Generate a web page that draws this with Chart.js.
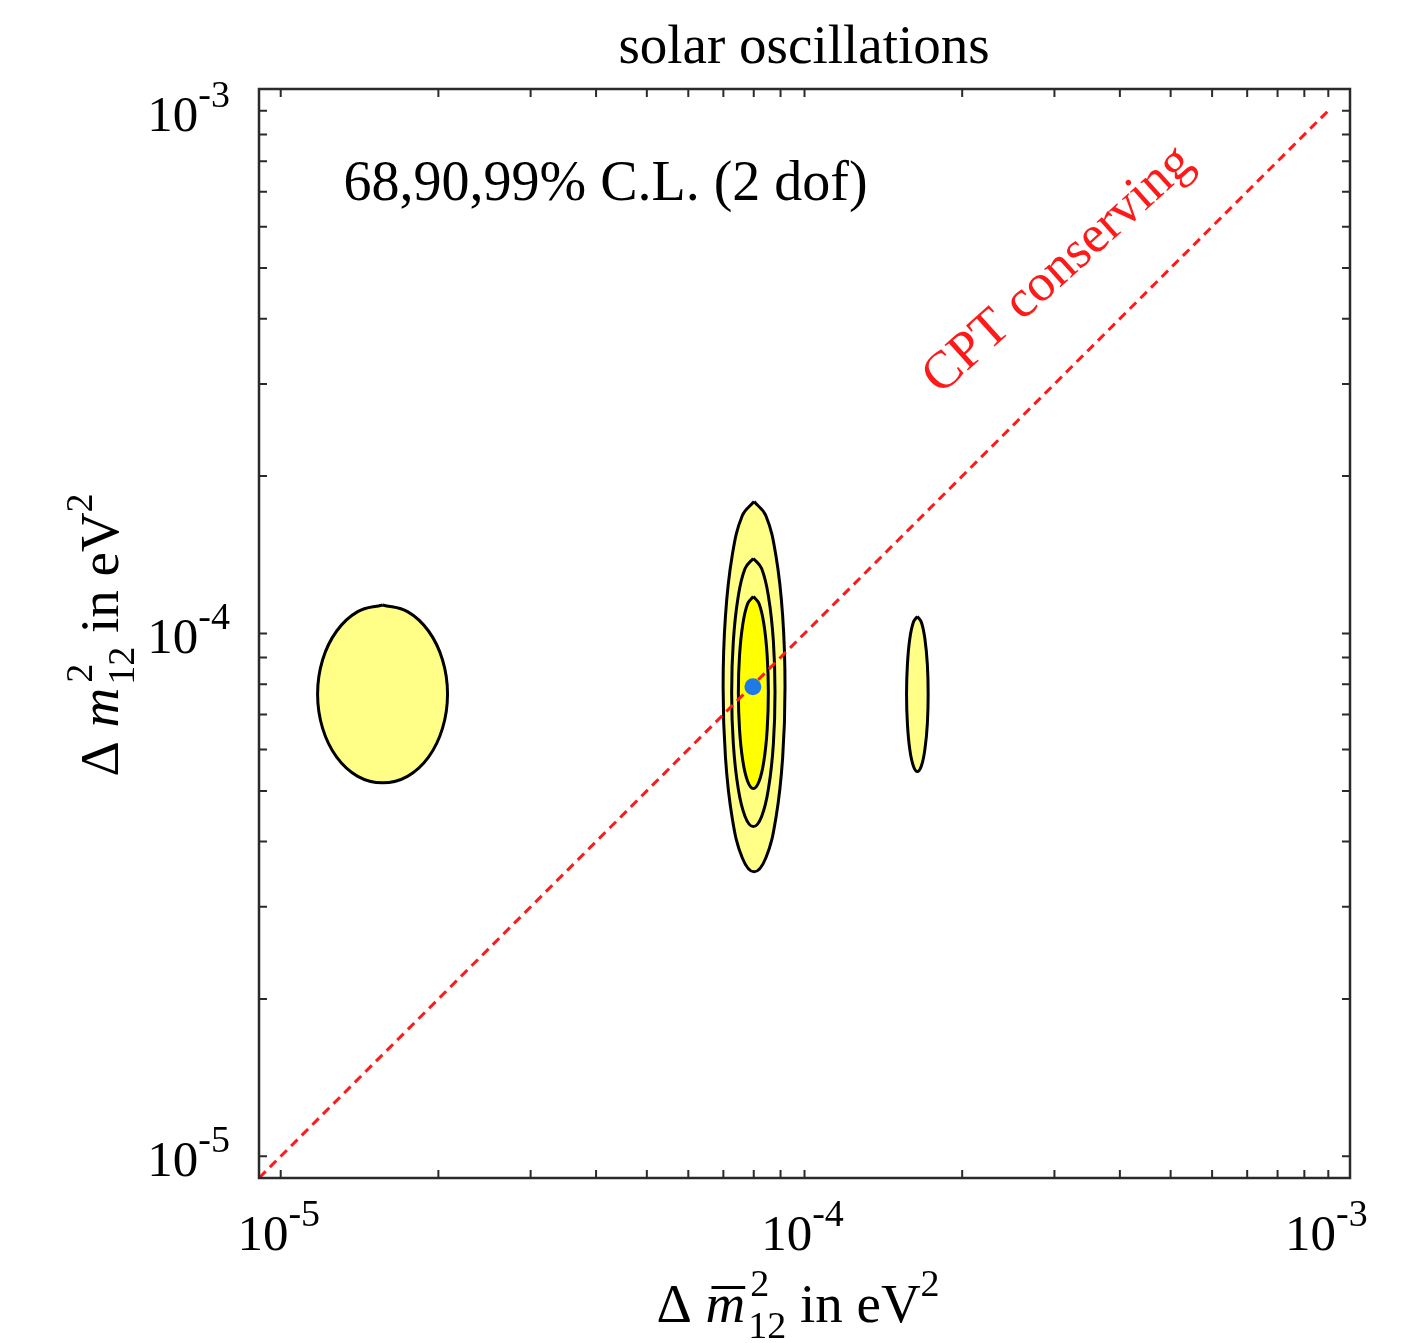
<!DOCTYPE html>
<html><head><meta charset="utf-8">
<script src="https://cdn.jsdelivr.net/npm/chart.js@4.4.1/dist/chart.umd.min.js"></script>
<style>html,body{margin:0;padding:0;background:#fff;}canvas{display:block;}</style>
</head><body>
<canvas id="c" width="1409" height="1343"></canvas>
<script>
// ---- text ----
const chartTitle = 'solar oscillations';
const clLabel = '68,90,99% C.L. (2 dof)';
const cptLabel = 'CPT conserving';
// ---- axes ----
const axisMin = 9.09e-6, axisMax = 1.1e-3;
const majorTicks = [1e-5, 1e-4, 1e-3];
const majorTickExp = ['-5', '-4', '-3'];
const minorMultiples = [2, 3, 4, 5, 6, 7, 8, 9];
// ---- data: [Δm̄²12 (x), Δm²12 (y)] in eV² ----
const bestFit = [[7.97e-5, 7.91e-5]];
const cptLine = [[9.1e-6, 9.1e-6], [1.0e-3, 1.0e-3]];
const contour68Main = [
 [7.986e-5,1.177e-4],[7.787e-5,1.140e-4],[7.623e-5,1.040e-4],[7.515e-5,9.066e-5],
 [7.477e-5,7.711e-5],[7.515e-5,6.558e-5],[7.623e-5,5.717e-5],[7.787e-5,5.216e-5],
 [7.986e-5,5.051e-5],[8.190e-5,5.216e-5],[8.367e-5,5.717e-5],[8.487e-5,6.558e-5],
 [8.530e-5,7.711e-5],[8.487e-5,9.066e-5],[8.367e-5,1.040e-4],[8.190e-5,1.140e-4],
 [7.986e-5,1.177e-4]];
const contour90Main = [
 [7.986e-5,1.392e-4],[7.700e-5,1.331e-4],[7.466e-5,1.171e-4],[7.313e-5,9.666e-5],
 [7.260e-5,7.711e-5],[7.313e-5,6.151e-5],[7.466e-5,5.079e-5],[7.700e-5,4.468e-5],
 [7.986e-5,4.272e-5],[8.282e-5,4.468e-5],[8.542e-5,5.079e-5],[8.721e-5,6.151e-5],
 [8.784e-5,7.711e-5],[8.721e-5,9.666e-5],[8.542e-5,1.171e-4],[8.282e-5,1.331e-4],
 [7.986e-5,1.392e-4]];
const contour99Main = [
 [8.011e-5,1.788e-4],[7.605e-5,1.680e-4],[7.276e-5,1.408e-4],[7.065e-5,1.081e-4],
 [6.992e-5,7.910e-5],[7.065e-5,5.790e-5],[7.276e-5,4.444e-5],[7.605e-5,3.724e-5],
 [8.011e-5,3.500e-5],[8.439e-5,3.724e-5],[8.820e-5,4.444e-5],[9.084e-5,5.790e-5],
 [9.179e-5,7.910e-5],[9.084e-5,1.081e-4],[8.820e-5,1.408e-4],[8.439e-5,1.680e-4],
 [8.011e-5,1.788e-4]];
const contour99Left = [
 [1.565e-5,1.134e-4],[1.403e-5,1.101e-4],[1.279e-5,1.011e-4],[1.202e-5,8.90e-5],
 [1.176e-5,7.66e-5],[1.202e-5,6.59e-5],[1.279e-5,5.80e-5],[1.403e-5,5.33e-5],
 [1.565e-5,5.18e-5],[1.746e-5,5.33e-5],[1.915e-5,5.80e-5],[2.037e-5,6.59e-5],
 [2.082e-5,7.66e-5],[2.037e-5,8.90e-5],[1.915e-5,1.011e-4],[1.746e-5,1.101e-4],
 [1.565e-5,1.134e-4]];
const contour99Right = [
 [1.642e-4,1.078e-4],[1.613e-4,1.050e-4],[1.588e-4,9.750e-5],[1.572e-4,8.727e-5],
 [1.566e-4,7.658e-5],[1.572e-4,6.720e-5],[1.588e-4,6.015e-5],[1.613e-4,5.586e-5],
 [1.642e-4,5.443e-5],[1.672e-4,5.586e-5],[1.698e-4,6.015e-5],[1.716e-4,6.720e-5],
 [1.722e-4,7.658e-5],[1.716e-4,8.727e-5],[1.698e-4,9.750e-5],[1.672e-4,1.050e-4],
 [1.642e-4,1.078e-4]];
// annotation anchors in data coordinates
const clLabelAt = [1.318e-5, 6.755e-4];
const cptLabelAt = [3.18e-4, 4.73e-4];

const SERIF = '"Liberation Serif","DejaVu Serif",serif';
const pts = a => a.map(([x, y]) => ({x, y}));
const contourStyle = (fillColor) => ({
  showLine: true, fill: 'shape', backgroundColor: fillColor, borderColor: '#000',
  borderWidth: 3, tension: 0.4, pointRadius: 0, pointHoverRadius: 0
});

function drawPow(ctx, exp, x, baseline, align) {
  ctx.font = '51px ' + SERIF;
  const w1 = ctx.measureText('10').width;
  ctx.font = '38px ' + SERIF;
  const w2 = ctx.measureText(exp).width;
  const tot = w1 + w2;
  let x0 = align === 'center' ? x - tot / 2 : x - tot;
  ctx.textAlign = 'left'; ctx.textBaseline = 'alphabetic';
  ctx.font = '51px ' + SERIF; ctx.fillText('10', x0, baseline);
  ctx.font = '38px ' + SERIF; ctx.fillText(exp, x0 + w1, baseline - 24);
}

function axisLabel(ctx, bar) {
  // draws centered at (0,0) baseline
  const big = '55px ' + SERIF, bigI = 'italic 55px ' + SERIF, small = '38px ' + SERIF;
  ctx.font = big; const wD = ctx.measureText('\u0394 ').width;
  ctx.font = bigI; const wM = ctx.measureText('m').width;
  ctx.font = small; const wS = Math.max(ctx.measureText('2').width, ctx.measureText('12').width);
  ctx.font = big; const wIn = ctx.measureText(' in eV').width;
  ctx.font = small; const w2 = ctx.measureText('2').width;
  const tot = wD + wM + 3 + wS + wIn + w2;
  let x = -tot / 2;
  ctx.textAlign = 'left'; ctx.textBaseline = 'alphabetic';
  ctx.font = big; ctx.fillText('\u0394 ', x, 0); x += wD;
  ctx.font = bigI; ctx.fillText('m', x, 0);
  if (bar) { ctx.fillRect(x + 6, -36, wM - 6, 3); }
  x += wM + 3;
  ctx.font = small; ctx.fillText('2', x + 2, -26); ctx.fillText('12', x, 16); x += wS;
  ctx.font = big; ctx.fillText(' in eV', x, 0); x += wIn;
  ctx.font = small; ctx.fillText('2', x, -26);
}

const decor = {
  id: 'decor',
  afterDatasetsDraw(chart) {
    const {ctx, chartArea: a, scales: {x, y}} = chart;
    ctx.save();
    ctx.strokeStyle = '#2a2a2a'; ctx.lineWidth = 2.5;
    ctx.strokeRect(a.left, a.top, a.right - a.left, a.bottom - a.top);
    const vals = [];
    majorTicks.forEach(d => { vals.push(d); if (d < majorTicks[majorTicks.length - 1]) minorMultiples.forEach(m => vals.push(d * m)); });
    const tl = 8;
    ctx.lineWidth = 2; ctx.beginPath();
    vals.forEach(v => {
      const px = x.getPixelForValue(v);
      if (px > a.left && px < a.right) {
        ctx.moveTo(px, a.bottom); ctx.lineTo(px, a.bottom - tl);
        ctx.moveTo(px, a.top); ctx.lineTo(px, a.top + tl);
      }
      const py = y.getPixelForValue(v);
      if (py > a.top && py < a.bottom) {
        ctx.moveTo(a.left, py); ctx.lineTo(a.left + tl, py);
        ctx.moveTo(a.right, py); ctx.lineTo(a.right - tl, py);
      }
    });
    ctx.stroke();
    ctx.fillStyle = '#000';
    majorTicks.forEach((v, i) => {
      drawPow(ctx, majorTickExp[i], x.getPixelForValue(v) - 2, a.bottom + 72, 'center');
      drawPow(ctx, majorTickExp[i], a.left - 29, y.getPixelForValue(v) + 20, 'right');
    });
    // title
    ctx.font = '55px ' + SERIF; ctx.textAlign = 'center'; ctx.textBaseline = 'alphabetic';
    ctx.fillText(chartTitle, 804, 63);
    // axis labels
    ctx.save(); ctx.translate(798, a.bottom + 144); axisLabel(ctx, true); ctx.restore();
    ctx.save(); ctx.translate(a.left - 141, 635); ctx.rotate(-Math.PI / 2); axisLabel(ctx, false); ctx.restore();
    // annotations
    ctx.font = '56px ' + SERIF; ctx.textAlign = 'left'; ctx.fillStyle = '#000';
    ctx.fillText(clLabel, x.getPixelForValue(clLabelAt[0]), y.getPixelForValue(clLabelAt[1]));
    ctx.save();
    ctx.translate(x.getPixelForValue(cptLabelAt[0]), y.getPixelForValue(cptLabelAt[1]));
    ctx.rotate(-42 * Math.PI / 180);
    ctx.font = '53px ' + SERIF; ctx.textAlign = 'center'; ctx.fillStyle = '#ff1a1a';
    ctx.fillText(cptLabel, 0, 0);
    ctx.restore();
    ctx.restore();
  }
};

new Chart(document.getElementById('c'), {
  type: 'scatter',
  data: {
    datasets: [
      {label: 'best fit', data: pts(bestFit), pointRadius: 8.5, pointBackgroundColor: '#1f7ae8', pointBorderWidth: 0, showLine: false},
      {label: 'CPT conserving', data: pts(cptLine), showLine: true, borderColor: '#ff1a1a', borderDash: [9, 6], borderWidth: 3, pointRadius: 0, fill: false},
      Object.assign({label: '68% C.L.', data: pts(contour68Main)}, contourStyle('#ffff00')),
      Object.assign({label: '90% C.L.', data: pts(contour90Main)}, contourStyle('#ffff80')),
      Object.assign({label: '99% C.L.', data: pts(contour99Main)}, contourStyle('#ffff88')),
      Object.assign({label: '99% C.L. left', data: pts(contour99Left)}, contourStyle('#ffff88')),
      Object.assign({label: '99% C.L. right', data: pts(contour99Right)}, contourStyle('#ffff88'))
    ]
  },
  options: {
    responsive: false, animation: false, devicePixelRatio: 1,
    layout: {padding: {left: 259, right: 59, top: 89, bottom: 165}},
    plugins: {legend: {display: false}, tooltip: {enabled: false}, title: {display: false}},
    scales: {
      x: {type: 'logarithmic', display: false, min: axisMin, max: axisMax},
      y: {type: 'logarithmic', display: false, min: axisMin, max: axisMax}
    }
  },
  plugins: [decor]
});
</script>
</body></html>
